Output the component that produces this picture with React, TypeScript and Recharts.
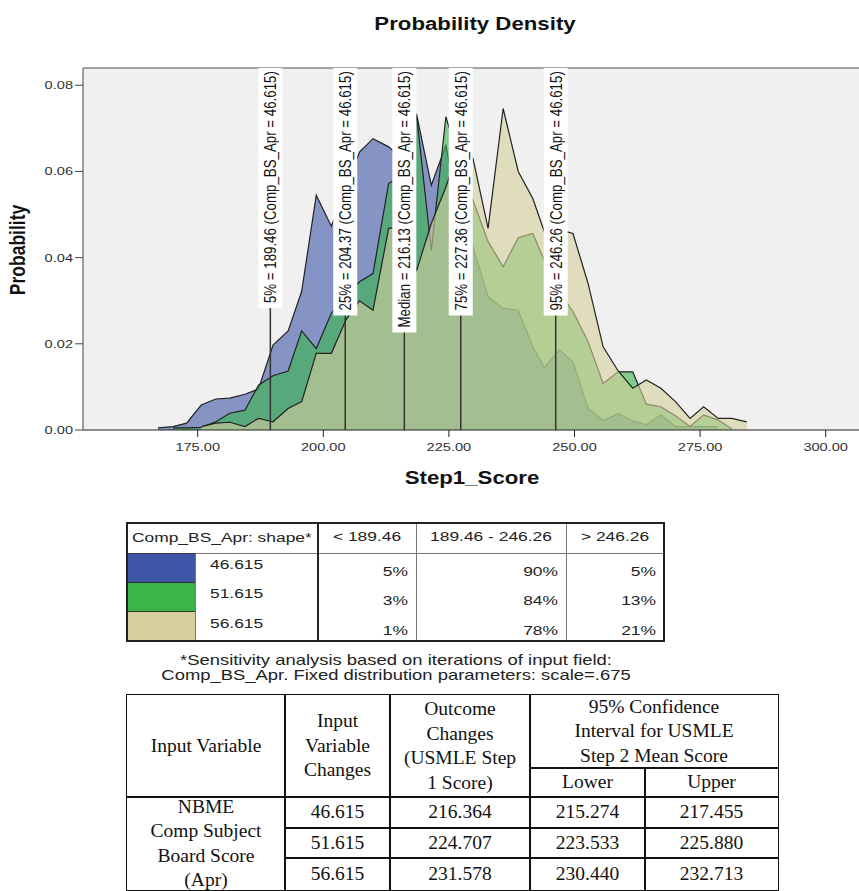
import React from 'react'
import { AreaChart, Area, XAxis, YAxis, CartesianGrid, ReferenceLine } from 'recharts'

// Step1_Score bins (shared by the three shapes)
const scoreX = [
  167.1, 170.1, 172.8, 175.7, 178.6, 181.4, 184.4, 187.1, 190.0, 193.0,
  195.7, 198.6, 201.6, 204.5, 207.2, 209.9, 213.0, 215.6, 218.6, 221.5,
  224.4, 227.1, 229.8, 232.8, 235.8, 238.8, 241.7, 244.0, 247.0, 249.7,
  252.7, 255.7, 258.7, 261.6, 264.3, 267.2, 270.1, 273.0, 275.7, 278.6,
  281.3, 284.3,
]

// probability per bin, Comp_BS_Apr shape = 46.615
const shape46 = [
  0.0005, 0.0008, 0.0016, 0.0058, 0.0072, 0.0074, 0.0083, 0.0095, 0.0197, 0.023,
  0.0322, 0.0545, 0.0473, 0.056, 0.0645, 0.0676, 0.0657, 0.063, 0.0731, 0.0568,
  0.066, 0.05, 0.0425, 0.0309, 0.0282, 0.0278, 0.0193, 0.0145, 0.0186, 0.0158,
  0.005, 0.0022, 0.0038, 0.0021, 0.0012, 0.0035, 0.0008, 0.0008, 0.0008, 0.0008,
  null, null,
]

// shape = 51.615
const shape51 = [
  null, 0.0005, 0.0005, 0.0006, 0.0019, 0.0039, 0.0046, 0.0104, 0.0126, 0.0137,
  0.023, 0.0189, 0.0271, 0.031, 0.0344, 0.0363, 0.0572, 0.0591, 0.0727, 0.0417,
  0.0727, 0.062, 0.0533, 0.0437, 0.0379, 0.0446, 0.0456, 0.0394, 0.032, 0.0275,
  0.0205, 0.0108, 0.0135, 0.0135, 0.006, 0.0054, 0.0033, 0.0008, 0.0035, 0.0023,
  0.0003, null,
]

// shape = 56.615
const shape56 = [
  null, null, null, 0.0008, 0.0016, 0.0018, 0.0008, 0.0027, 0.0019, 0.005,
  0.0066, 0.0178, 0.0178, 0.0255, 0.03, 0.0278, 0.0468, 0.0471, 0.0371, 0.0479,
  0.0564, 0.0655, 0.063, 0.0468, 0.0746, 0.06, 0.0537, 0.046, 0.0465, 0.0456,
  0.034, 0.0193, 0.0137, 0.0097, 0.0116, 0.0097, 0.0066, 0.0027, 0.0054, 0.0027,
  0.0027, 0.0019,
]

const shapeNames = ['46.615', '51.615', '56.615']
const xTicks = [175, 200, 225, 250, 275, 300]
const yTicks = [0, 0.02, 0.04, 0.06, 0.08]

const pctNames = ['5%', '25%', 'Median', '75%', '95%']
const pctValues = [189.46, 204.37, 216.13, 227.36, 246.26]

const rangeLabels = ['< 189.46', '189.46 - 246.26', '> 246.26']
const rangePcts = [
  ['5%', '90%', '5%'],
  ['3%', '84%', '13%'],
  ['1%', '78%', '21%'],
]

const ciInputs = ['46.615', '51.615', '56.615']
const ciOutcome = ['216.364', '224.707', '231.578']
const ciLower = ['215.274', '223.533', '230.440']
const ciUpper = ['217.455', '225.880', '232.713']

const COLORS = ['#3F56A8', '#39B54A', '#D5CF9C']
const SANS = "'Liberation Sans', Arial, sans-serif"
const SERIF = "'Liberation Serif', 'Times New Roman', serif"
const SX = 1.27 // the SPSS output is stretched sideways

const data = scoreX.map((x, i) => ({ x, s1: shape46[i], s2: shape51[i], s3: shape56[i] }))

let ctx: CanvasRenderingContext2D | null = null
function textWidth(t: string, size: number) {
  if (!ctx) ctx = document.createElement('canvas').getContext('2d')
  if (!ctx) return t.length * size * 0.5
  ctx.font = `${size}px "Liberation Sans"`
  return ctx.measureText(t).width
}

function XTick({ x, y, payload }: any) {
  return (
    <g transform={`translate(${x},${y})`}>
      <text transform={`scale(${SX},1)`} textAnchor="middle" dy={12} fontSize={11.5} fontFamily={SANS} fill="#333">
        {Number(payload.value).toFixed(2)}
      </text>
    </g>
  )
}

function YTick({ x, y, payload }: any) {
  return (
    <g transform={`translate(${x},${y})`}>
      <text transform={`scale(${SX},1)`} textAnchor="end" dy={4} fontSize={11.5} fontFamily={SANS} fill="#333">
        {Number(payload.value).toFixed(2)}
      </text>
    </g>
  )
}

function PctLabel({ viewBox, text }: any) {
  const { x, y } = viewBox
  const fs = 13.3
  const h = textWidth(text, fs) + 8
  return (
    <g>
      <rect x={x - 12} y={y} width={24} height={h} fill="#fff" />
      <g transform={`translate(${x},${y + h - 5}) scale(${SX},1) rotate(-90)`}>
        <text x={0} y={0} dy="0.36em" fontSize={fs} fontFamily={SANS} fill="#111">{text}</text>
      </g>
    </g>
  )
}

function Cell({ x, y, w, h, bw = 1, bc = '#333', bg, children, style }: any) {
  return (
    <div
      style={{
        position: 'absolute', left: x - bw / 2, top: y - bw / 2, width: w + bw, height: h + bw,
        border: `${bw}px solid ${bc}`, boxSizing: 'border-box', background: bg,
        display: 'flex', alignItems: 'center', justifyContent: 'center', ...style,
      }}
    >
      {children}
    </div>
  )
}

function Sans({ x, y, anchor = 'left', size = 13.7, children }: any) {
  const tx = anchor === 'left' ? '0' : anchor === 'right' ? '-100%' : '-50%'
  return (
    <div
      style={{
        position: 'absolute', left: x, top: y, whiteSpace: 'nowrap', fontFamily: SANS, fontSize: size,
        lineHeight: 1, color: '#222', transform: `translate(${tx},-50%) scaleX(${SX})`,
        transformOrigin: anchor === 'left' ? 'left center' : anchor === 'right' ? 'right center' : 'center center',
      }}
    >
      {children}
    </div>
  )
}

function DensityChart() {
  return (
    <div style={{ position: 'absolute', left: 0, top: 0 }}>
      <AreaChart width={880} height={470} data={data} margin={{ top: 68, right: 10, bottom: 10, left: 0 }}>
        <CartesianGrid horizontal={false} vertical={false} fill="#F0F0F0" />
        <XAxis
          type="number" dataKey="x" domain={[152.17, 308.82]} ticks={xTicks} allowDataOverflow
          height={30} tickSize={7} tickMargin={2} tick={<XTick />}
          axisLine={{ stroke: '#222' }} tickLine={{ stroke: '#222' }}
        />
        <YAxis
          type="number" domain={[0, 0.084]} ticks={yTicks} allowDataOverflow
          width={83} tickSize={8} tickMargin={2} tick={<YTick />}
          axisLine={{ stroke: '#444' }} tickLine={{ stroke: '#444' }}
        />
        {['s1', 's2', 's3'].map((k, i) => (
          <Area
            key={k} type="linear" dataKey={k} baseValue={0} stroke="#222" strokeWidth={1.2}
            fill={COLORS[i]} fillOpacity={0.6} dot={false} activeDot={false} isAnimationActive={false}
          />
        ))}
        <ReferenceLine y={0.084} stroke="#888" strokeWidth={1.5} />
        {pctValues.map((v, i) => (
          <ReferenceLine
            key={v} x={v} stroke="#333" strokeWidth={1.5}
            label={(p: any) => (
              <PctLabel {...p} text={`${pctNames[i]} = ${v.toFixed(2)} (Comp_BS_Apr = ${shapeNames[0]})`} />
            )}
          />
        ))}
      </AreaChart>
    </div>
  )
}

function LegendTable() {
  const cx = [127, 195, 318, 416, 566, 664]
  const ry = [523, 553, 582.3, 611.7, 641]
  return (
    <>
      <Cell x={cx[0]} y={ry[0]} w={cx[2] - cx[0]} h={ry[1] - ry[0]} bc="#555" />
      {rangeLabels.map((t, j) => (
        <Cell key={t} x={cx[j + 2]} y={ry[0]} w={cx[j + 3] - cx[j + 2]} h={ry[1] - ry[0]} bc="#777" />
      ))}
      {shapeNames.map((s, i) => (
        <Cell key={s} x={cx[0]} y={ry[i + 1]} w={cx[1] - cx[0]} h={ry[i + 2] - ry[i + 1]} bg={COLORS[i]} bc="#333" />
      ))}
      {[1, 2, 3, 4].map((j) => (
        <Cell key={j} x={cx[j]} y={ry[1]} w={cx[j + 1] - cx[j]} h={ry[4] - ry[1]} bc="#777" />
      ))}
      <Cell x={cx[0]} y={ry[0]} w={cx[5] - cx[0]} h={ry[4] - ry[0]} bw={2} bc="#222" />
      <div style={{ position: 'absolute', left: cx[2] - 1, top: ry[0], width: 2, height: ry[4] - ry[0], background: '#222' }} />

      <Sans x={cx[0] + 5} y={538}>Comp_BS_Apr: shape*</Sans>
      {rangeLabels.map((t, j) => (
        <Sans key={t} x={(cx[j + 2] + cx[j + 3]) / 2} y={537} anchor="center">{t}</Sans>
      ))}
      {shapeNames.map((s, i) => (
        <React.Fragment key={s}>
          <Sans x={210} y={ry[i + 1] + 12}>{s}</Sans>
          {rangePcts[i].map((p, j) => (
            <Sans key={j} x={cx[j + 3] - 8} y={ry[i + 1] + 19} anchor="right">{p}</Sans>
          ))}
        </React.Fragment>
      ))}
      <Sans x={396} y={660} anchor="center" size={14.5}>*Sensitivity analysis based on iterations of input field:</Sans>
      <Sans x={396} y={675} anchor="center" size={14.5}>Comp_BS_Apr. Fixed distribution parameters: scale=.675</Sans>
    </>
  )
}

function Lines({ lines }: { lines: string[] }) {
  return (
    <div style={{ fontFamily: SERIF, fontSize: 19.5, lineHeight: '24.5px', color: '#111', textAlign: 'center', whiteSpace: 'nowrap' }}>
      {lines.map((l, i) => <div key={i}>{l}</div>)}
    </div>
  )
}

function ResultTable() {
  const cx = [127, 285, 390, 530, 645, 778]
  const hy = [695, 768, 797]
  const ry = [797, 828, 858, 890]
  const b = { bw: 1.5, bc: '#111', style: { overflow: 'visible' } }
  return (
    <>
      <Cell x={cx[0]} y={hy[0]} w={cx[1] - cx[0]} h={hy[2] - hy[0]} {...b}><Lines lines={['Input Variable']} /></Cell>
      <Cell x={cx[1]} y={hy[0]} w={cx[2] - cx[1]} h={hy[2] - hy[0]} {...b}><Lines lines={['Input', 'Variable', 'Changes']} /></Cell>
      <Cell x={cx[2]} y={hy[0]} w={cx[3] - cx[2]} h={hy[2] - hy[0]} {...b}>
        <Lines lines={['Outcome', 'Changes', '(USMLE Step', '1 Score)']} />
      </Cell>
      <Cell x={cx[3]} y={hy[0]} w={cx[5] - cx[3]} h={hy[1] - hy[0]} {...b}>
        <Lines lines={['95% Confidence', 'Interval for USMLE', 'Step 2 Mean Score']} />
      </Cell>
      <Cell x={cx[3]} y={hy[1]} w={cx[4] - cx[3]} h={hy[2] - hy[1]} {...b}><Lines lines={['Lower']} /></Cell>
      <Cell x={cx[4]} y={hy[1]} w={cx[5] - cx[4]} h={hy[2] - hy[1]} {...b}><Lines lines={['Upper']} /></Cell>
      <Cell x={cx[0]} y={ry[0]} w={cx[1] - cx[0]} h={ry[3] - ry[0]} {...b}>
        <Lines lines={['NBME', 'Comp Subject', 'Board Score', '(Apr)']} />
      </Cell>
      {ciInputs.map((v, i) => {
        const cols = [v, ciOutcome[i], ciLower[i], ciUpper[i]]
        return cols.map((t, j) => (
          <Cell key={`${i}-${j}`} x={cx[j + 1]} y={ry[i]} w={cx[j + 2] - cx[j + 1]} h={ry[i + 1] - ry[i]} {...b}>
            <Lines lines={[t]} />
          </Cell>
        ))
      })}
    </>
  )
}

export default function App() {
  const title = {
    position: 'absolute' as const, whiteSpace: 'nowrap' as const, fontFamily: SANS, fontWeight: 700,
    fontSize: 17.5, lineHeight: 1, color: '#111',
  }
  return (
    <div style={{ position: 'absolute', left: 0, top: 0, width: 859, height: 891, overflow: 'hidden', background: '#fff' }}>
      <DensityChart />
      <div style={{ ...title, left: 475, top: 25, transform: `translate(-50%,-50%) scaleX(${SX})` }}>Probability Density</div>
      <div style={{ ...title, left: 472, top: 479, transform: `translate(-50%,-50%) scaleX(${SX})` }}>Step1_Score</div>
      <div style={{ ...title, left: 18, top: 250, transform: 'translate(-50%,-50%) rotate(-90deg) scale(1,1.27)' }}>Probability</div>
      <LegendTable />
      <ResultTable />
    </div>
  )
}
